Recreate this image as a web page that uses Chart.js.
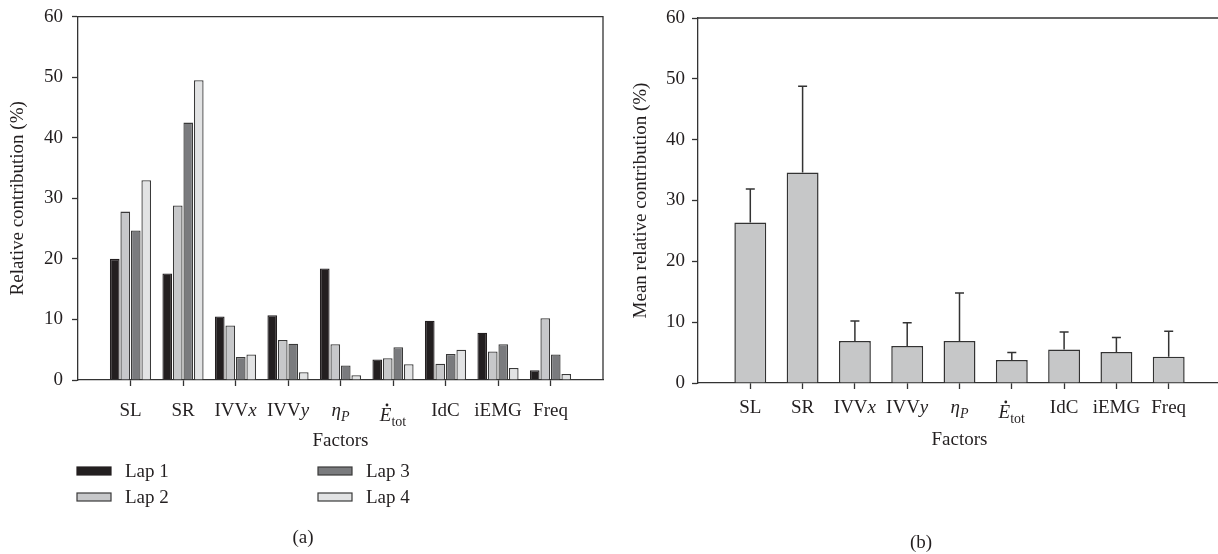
<!DOCTYPE html>
<html>
<head>
<meta charset="utf-8">
<script src="https://cdn.jsdelivr.net/npm/chart.js@4.4.1/dist/chart.umd.min.js"></script>
<style>
  html, body { margin: 0; padding: 0; background: #fff; overflow: hidden; }
  body { width: 1218px; height: 554px; position: relative; }
  .box { position: absolute; top: 0; height: 554px; }
  #boxA { left: 0; width: 615px; }
  #boxB { left: 615px; width: 625px; }
  .cap { position: absolute; font: 19px 'Liberation Serif', serif; color: #231f20; transform: translate(-50%, -50%); }
</style>
</head>
<body>
<div class="box" id="boxA"><canvas id="barLaps"></canvas></div>
<div class="box" id="boxB"><canvas id="barMean"></canvas></div>
<div class="cap" style="left:303px;top:537px">(a)</div>
<div class="cap" style="left:921px;top:542px">(b)</div>
<script>
// factors on the x axis
const categories = ['SL', 'SR', 'IVVx', 'IVVy', 'ηP', 'Etot', 'IdC', 'iEMG', 'Freq'];
const yTicks = [0, 10, 20, 30, 40, 50, 60];

// (a) relative contribution per lap (%)
const lap1 = [20.0, 17.6, 10.5, 10.7, 18.4, 3.4, 9.8, 7.8, 1.6];
const lap2 = [27.8, 28.8, 9.0, 6.6, 5.9, 3.6, 2.7, 4.7, 10.2];
const lap3 = [24.7, 42.5, 3.8, 6.0, 2.4, 5.4, 4.3, 5.9, 4.2];
const lap4 = [33.0, 49.5, 4.2, 1.3, 0.8, 2.6, 5.0, 2.0, 1.0];

// (b) mean relative contribution (%) and SD (upper error bar only)
const meanContrib = [26.4, 34.6, 6.9, 6.1, 6.9, 3.8, 5.5, 5.1, 4.3];
const sdContrib = [5.5, 14.2, 3.3, 3.8, 7.9, 1.2, 2.9, 2.4, 4.2];

const SERIF = "'Liberation Serif', 'DejaVu Serif', serif";
const INK = '#231f20';
const LINE = '#333333';
const MAIN = 19, SUB = 14;

Chart.defaults.font.family = SERIF;
Chart.defaults.font.size = MAIN;
Chart.defaults.color = INK;

// how the math-ish labels are typeset
const labelParts = {
    IVVx: [['IVV', 'n'], ['x', 'i']],
    IVVy: [['IVV', 'n'], ['y', 'i']],
    'ηP': [['η', 'i'], ['P', 'isub']],
    Etot: [['E', 'idot'], ['tot', 'sub']]
};

function fontOf(st) {
    const ital = st === 'i' || st === 'idot' || st === 'isub';
    const size = st.indexOf('sub') >= 0 ? SUB : MAIN;
    return (ital ? 'italic ' : '') + size + 'px ' + SERIF;
}

function drawFactorLabels(chart, gap) {
    const {ctx, chartArea} = chart;
    const xs = chart.scales.x;
    ctx.save();
    ctx.fillStyle = INK;
    ctx.textBaseline = 'alphabetic';
    categories.forEach((c, i) => {
        const parts = labelParts[c] || [[c, 'n']];
        let w = 0;
        parts.forEach(p => { ctx.font = fontOf(p[1]); w += ctx.measureText(p[0]).width; });
        let x = xs.getPixelForValue(i + 1) - w / 2;
        const base = chartArea.bottom + gap + (c === 'Etot' ? 5 : 0);
        parts.forEach(([t, st]) => {
            ctx.font = fontOf(st);
            const tw = ctx.measureText(t).width;
            ctx.fillText(t, x, st.indexOf('sub') >= 0 ? base + 5 : base);
            if (st === 'idot') {
                ctx.beginPath();
                ctx.arc(x + tw * 0.62, base - 16, 1.4, 0, Math.PI * 2);
                ctx.fill();
            }
            x += tw;
        });
    });
    ctx.restore();
}

function frameTopRight(chart) {
    const {ctx, chartArea: a} = chart;
    ctx.save();
    ctx.strokeStyle = LINE;
    ctx.lineWidth = 1.3;
    ctx.beginPath();
    ctx.moveTo(a.left, a.top);
    ctx.lineTo(a.right, a.top);
    ctx.lineTo(a.right, a.bottom);
    ctx.stroke();
    ctx.restore();
}

function xScale(titlePad) {
    return {
        type: 'linear', min: 0, max: 10, offset: false,
        afterBuildTicks: s => { s.ticks = categories.map((c, i) => ({value: i + 1})); },
        afterFit: s => { s.height = 75; },
        ticks: {display: false},
        grid: {drawOnChartArea: false, drawTicks: true, tickLength: 6, tickColor: LINE, tickWidth: 1.3, offset: false},
        border: {color: LINE, width: 1.3},
        title: {display: true, text: 'Factors', padding: {top: 0, bottom: titlePad}}
    };
}

function yScale(title, width, titlePad, tickPad) {
    return {
        min: 0, max: 60,
        afterBuildTicks: s => { s.ticks = yTicks.map(v => ({value: v})); },
        afterFit: s => { s.width = width; },
        ticks: {padding: tickPad, font: {lineHeight: 0.8}},
        grid: {drawOnChartArea: false, drawTicks: true, tickLength: 6, tickColor: LINE, tickWidth: 1.3},
        border: {color: LINE, width: 1.3},
        title: {display: true, text: title, padding: {top: titlePad, bottom: 0}}
    };
}

const pts = arr => arr.map((v, i) => ({x: i + 1, y: v}));

// (a) Relative contribution per lap
const ctxA = document.getElementById('barLaps').getContext('2d');
const lapChart = new Chart(ctxA, {
    type: 'bar',
    data: {
        datasets: [
            {label: 'Lap 1', data: pts(lap1), backgroundColor: '#231f20', borderColor: '#231f20'},
            {label: 'Lap 2', data: pts(lap2), backgroundColor: '#c7c8ca', borderColor: '#3a3a3a'},
            {label: 'Lap 3', data: pts(lap3), backgroundColor: '#7a7b7e', borderColor: '#3a3a3a'},
            {label: 'Lap 4', data: pts(lap4), backgroundColor: '#e2e3e4', borderColor: '#3a3a3a'}
        ]
    },
    options: {
        responsive: true,
        maintainAspectRatio: false,
        animation: false,
        datasets: {bar: {borderWidth: 1.3, categoryPercentage: 0.8, barPercentage: 0.92}},
        layout: {padding: {top: 15, right: 12, bottom: 99, left: 0}},
        scales: {
            x: xScale(3),
            y: yScale('Relative contribution (%)', 78, 7, 9)
        },
        plugins: {legend: {display: false}, tooltip: {enabled: false}}
    },
    plugins: [{
        id: 'lapDecor',
        afterDraw(chart) {
            frameTopRight(chart);
            drawFactorLabels(chart, 36);
            // two-column legend under the plot
            const ctx = chart.ctx;
            const cols = [77, 318], rows = [471, 497];
            ctx.save();
            chart.data.datasets.forEach((ds, k) => {
                const x = cols[Math.floor(k / 2)], y = rows[k % 2];
                ctx.fillStyle = ds.backgroundColor;
                ctx.strokeStyle = ds.borderColor;
                ctx.lineWidth = 1.2;
                ctx.fillRect(x, y - 4, 34, 8);
                ctx.strokeRect(x, y - 4, 34, 8);
                ctx.fillStyle = INK;
                ctx.font = MAIN + 'px ' + SERIF;
                ctx.textBaseline = 'alphabetic';
                ctx.fillText(ds.label, x + 48, y + 6);
            });
            ctx.restore();
        }
    }]
});

// (b) Mean relative contribution with SD
const ctxB = document.getElementById('barMean').getContext('2d');
const meanChart = new Chart(ctxB, {
    type: 'bar',
    data: {
        datasets: [{
            label: 'Mean',
            data: pts(meanContrib),
            backgroundColor: '#c6c7c8',
            borderColor: LINE,
            borderWidth: 1.5,
            categoryPercentage: 0.61,
            barPercentage: 1
        }]
    },
    options: {
        responsive: true,
        maintainAspectRatio: false,
        animation: false,
        layout: {padding: {top: 18, right: 19, bottom: 96, left: 0}},
        scales: {
            x: xScale(7),
            y: yScale('Mean relative contribution (%)', 83, 15, 7)
        },
        plugins: {legend: {display: false}, tooltip: {enabled: false}}
    },
    plugins: [{
        id: 'errorBars',
        afterDatasetsDraw(chart) {
            const ctx = chart.ctx;
            const ys = chart.scales.y;
            ctx.save();
            ctx.strokeStyle = LINE;
            ctx.lineWidth = 1.5;
            chart.getDatasetMeta(0).data.forEach((bar, i) => {
                const top = ys.getPixelForValue(meanContrib[i] + sdContrib[i]);
                ctx.beginPath();
                ctx.moveTo(bar.x, bar.y);
                ctx.lineTo(bar.x, top);
                ctx.moveTo(bar.x - 4.5, top);
                ctx.lineTo(bar.x + 4.5, top);
                ctx.stroke();
            });
            ctx.restore();
        },
        afterDraw(chart) {
            frameTopRight(chart);
            drawFactorLabels(chart, 30);
        }
    }]
});
</script>
</body>
</html>
